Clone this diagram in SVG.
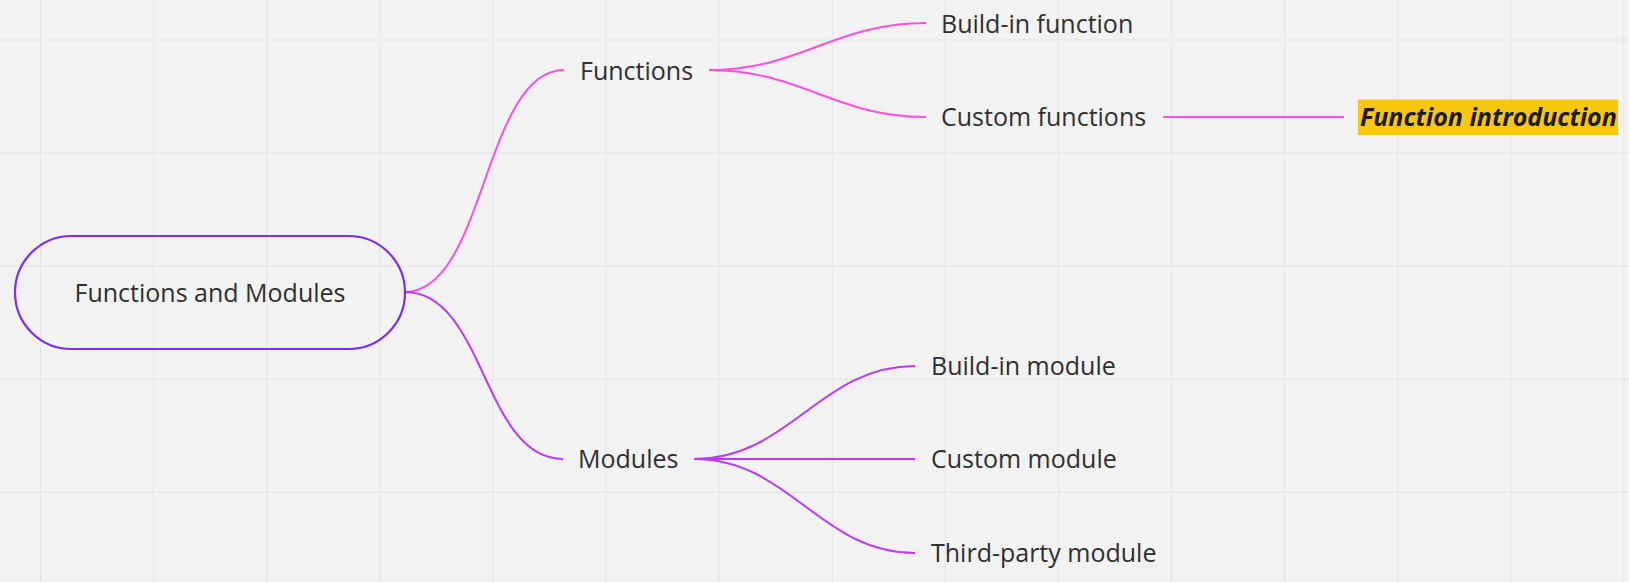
<svg xmlns="http://www.w3.org/2000/svg" width="1629" height="582" viewBox="0 0 1629 582">
<defs>
<pattern id="grid" x="40" y="39.5" width="113.1" height="113.1" patternUnits="userSpaceOnUse">
<path d="M0 0 H113.1 M0 0 V113.1" fill="none" stroke="#e4e4e4" stroke-width="2"/>
</pattern>
<style>
.t{font-family:"Open Sans","Noto Sans","Liberation Sans",sans-serif;font-size:25px;fill:#2f2f2f}
.pink{fill:none;stroke:#ff4ee2;stroke-width:2}
.purp{fill:none;stroke:#b83cf6;stroke-width:2}
</style>
</defs>
<rect width="1629" height="582" fill="#f2f2f2"/>
<rect width="1629" height="582" fill="url(#grid)"/>
<g id="connectors">
<path class="pink" d="M405 292 C485 292 484 70 564 70"/>
<path class="pink" d="M709 70 C800 70 835 23 926 23"/>
<path class="pink" d="M709 70 C800 70 835 117 926 117"/>
<path class="pink" d="M1163 117 H1344"/>
<path class="purp" d="M405 292 C485 292 483 459 563 459"/>
<path class="purp" d="M694 459 C790 459 820 366 915 366"/>
<path class="purp" d="M694 459 H915"/>
<path class="purp" d="M694 459 C790 459 820 553 915 553"/>
</g>
<g id="root">
<rect x="15" y="236" width="390" height="113" rx="56.5" fill="none" stroke="#7b2cf6" stroke-width="2.2"/>
<text class="t" x="210" y="302" text-anchor="middle">Functions and Modules</text>
</g>
<g id="functions"><text class="t" x="580" y="80">Functions</text></g>
<g id="buildin-function"><text class="t" x="941" y="33">Build-in function</text></g>
<g id="custom-functions"><text class="t" x="941" y="126">Custom functions</text></g>
<g id="function-introduction">
<rect x="1358" y="99.5" width="260" height="35.5" fill="#fac710"/>
<text x="1360" y="126" style="font-family:'Open Sans','Noto Sans','Liberation Sans',sans-serif;font-size:25px;font-weight:bold;font-style:italic;fill:#1a1a1a">Function introduction</text>
</g>
<g id="modules"><text class="t" x="578" y="468">Modules</text></g>
<g id="buildin-module"><text class="t" x="931" y="375">Build-in module</text></g>
<g id="custom-module"><text class="t" x="931" y="468">Custom module</text></g>
<g id="third-party-module"><text class="t" x="931" y="562">Third-party module</text></g>
</svg>
